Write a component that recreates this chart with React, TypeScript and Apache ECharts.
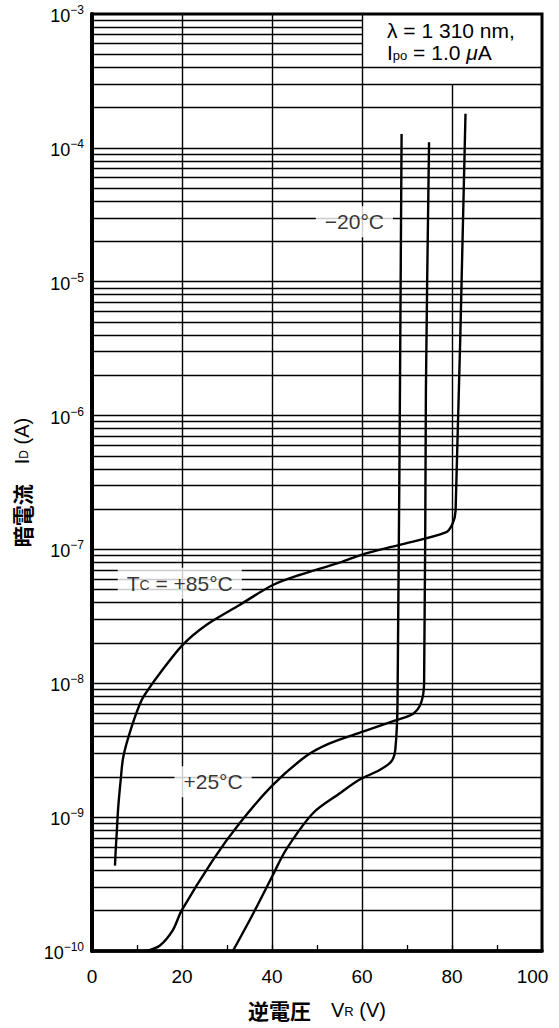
import React, { useEffect, useRef } from "react";
import * as echarts from "echarts";

const X_TICKS = [0, 20, 40, 60, 80, 100];
const Y_DECADES = [-10, -9, -8, -7, -6, -5, -4, -3];
const X_GRID = [20, 40, 60];
const MANTISSAS = [1, 2, 3, 4, 5, 6, 7, 8, 9];

// -20°C
const V_M20 = [31.3, 35.8, 40.2, 43.1, 49.1, 55.0, 59.4, 63.9, 66.5, 67.4, 67.9, 68.8];
const I_M20 = [1.0e-10, 1.9e-10, 3.7e-10, 5.7e-10, 1.07e-9, 1.5e-9, 1.9e-9, 2.25e-9, 2.6e-9, 3.2e-9, 7.5e-9, 1.27e-4];
// +25°C
const V_P25 = [12.1, 15.1, 18.0, 19.9, 26.9, 32.8, 40.2, 47.6, 52.8, 60.2, 67.6, 71.3, 73.1, 73.8, 74.2, 74.9];
const I_P25 = [1.0e-10, 1.1e-10, 1.44e-10, 2.0e-10, 4.8e-10, 9.0e-10, 1.74e-9, 2.86e-9, 3.56e-9, 4.35e-9, 5.3e-9, 5.9e-9, 7.1e-9, 1.0e-8, 1.55e-6, 1.1e-4];
// +85°C
const V_P85 = [5.1, 5.27, 5.49, 5.84, 6.38, 6.96, 8.82, 11.04, 12.9, 15.1, 20.1, 25.4, 32.8, 40.2, 46.1, 55.0, 60.2, 68.3, 78.6, 80.1, 80.8, 83.0];
const I_P85 = [4.34e-10, 5.7e-10, 7.6e-10, 1.2e-9, 1.9e-9, 2.83e-9, 4.74e-9, 7.5e-9, 9.4e-9, 1.19e-8, 1.93e-8, 2.73e-8, 3.85e-8, 5.42e-8, 6.44e-8, 7.96e-8, 9.2e-8, 1.08e-7, 1.34e-7, 1.55e-7, 1.95e-7, 1.8e-4];

const FONT = "'Liberation Sans', Arial, Helvetica, sans-serif";
const CJK = "'Noto Sans CJK JP', 'Noto Sans', sans-serif";

function zip(xs: number[], ys: number[]) {
  return xs.map((x, i) => [x, ys[i]]);
}

export default function App() {
  const ref = useRef<HTMLDivElement>(null);
  useEffect(() => {
    if (!ref.current) return;
    const chart = echarts.init(ref.current, undefined, { renderer: "svg" });

    const gridData: any[] = [];
    for (const d of Y_DECADES.slice(0, -1)) {
      for (const m of MANTISSAS) {
        const v = m * Math.pow(10, d);
        if (v > 4.5e-4) {
          gridData.push([{ coord: [0, v] }, { coord: [60, v] }]);
        } else {
          gridData.push([{ coord: [0, v] }, { coord: [100, v] }]);
        }
      }
    }
    for (const x of X_GRID) gridData.push([{ coord: [x, 1e-10] }, { coord: [x, 1e-3] }]);
    gridData.push([{ coord: [80, 1e-10] }, { coord: [80, 3e-4] }]);

    const curve = (name: string, data: number[][]) => ({
      name,
      type: "line",
      data,
      showSymbol: false,
      symbol: "none",
      smooth: 0.3,
      lineStyle: { color: "#000", width: 2.4 },
      z: 5,
      silent: true,
    });

    const labelSeries = (pos: number[], formatter: string, rich: any) => ({
      type: "scatter",
      data: [pos],
      symbolSize: 0,
      silent: true,
      z: 6,
      label: {
        show: true,
        position: "inside",
        formatter,
        backgroundColor: "#fff",
        padding: [5, 9, 5, 9],
        color: "#000",
        fontFamily: FONT,
        fontSize: 21,
        rich,
      },
    });

    const txt = { fontFamily: FONT, fontSize: 21, color: "#000" };

    chart.setOption({
      animation: false,
      backgroundColor: "#fff",
      grid: {
        left: 92,
        right: 17,
        top: 14,
        bottom: 77,
        show: true,
        borderColor: "#000",
        borderWidth: 3,
        backgroundColor: "transparent",
      },
      xAxis: {
        type: "value",
        min: 0,
        max: 100,
        interval: 20,
        axisLine: { show: true, lineStyle: { color: "#000", width: 3.5 } },
        axisTick: { show: true, inside: true, length: 6, lineStyle: { color: "#000", width: 1.3 } },
        minorTick: { show: true, splitNumber: 2, length: 6, lineStyle: { color: "#000", width: 1.3 } },
        splitLine: { show: false },
        axisLabel: {
          color: "#000",
          fontFamily: FONT,
          fontSize: 19,
          margin: 16,
          formatter: (v: number) => (v === 100 ? "{r|100}" : X_TICKS.includes(v) ? String(v) : ""),
          rich: {
            r: { fontFamily: FONT, fontSize: 19, color: "#000", padding: [0, 19, 0, 0] },
          },
        },
        name: "{j|逆電圧}{a|　V}{sub|R}{a| (V)}",
        nameLocation: "middle",
        nameGap: 48,
        nameTextStyle: {
          color: "#000",
          rich: {
            j: { fontFamily: CJK, fontSize: 21, fontWeight: "bold", color: "#000" },
            a: { fontFamily: FONT, fontSize: 20, color: "#000" },
            sub: { fontFamily: FONT, fontSize: 13, color: "#000", padding: [4, 0, 0, 0] },
          },
        },
      },
      yAxis: {
        type: "log",
        logBase: 10,
        min: 1e-10,
        max: 1e-3,
        splitNumber: 7,
        axisLine: { show: true, lineStyle: { color: "#000", width: 4 } },
        axisTick: { show: false },
        splitLine: { show: false },
        axisLabel: {
          margin: 8,
          formatter: (v: number) => {
            const e = Math.round(Math.log10(v));
            return `{b|10}{s|−${-e}}`;
          },
          rich: {
            b: { fontFamily: FONT, fontSize: 18, color: "#000", lineHeight: 24, padding: [4, 0, 0, 0] },
            s: { fontFamily: FONT, fontSize: 12, color: "#000", padding: [0, 0, 8, 0] },
          },
        },
        name: "{j|暗電流}{a|　I}{sub|D}{a| (A)}",
        nameLocation: "middle",
        nameGap: 55,
        nameRotate: 90,
        nameTextStyle: {
          color: "#000",
          rich: {
            j: { fontFamily: CJK, fontSize: 21, fontWeight: "bold", color: "#000" },
            a: { fontFamily: FONT, fontSize: 20, color: "#000" },
            sub: { fontFamily: FONT, fontSize: 12, color: "#000", padding: [4, 0, 0, 0] },
          },
        },
      },
      graphic: [
        {
          type: "text",
          left: 387,
          top: 20,
          z: 10,
          style: {
            text: "λ = 1 310 nm,",
            fill: "#000",
            font: `21px ${FONT}`,
          },
        },
        {
          type: "text",
          left: 387,
          top: 42,
          z: 10,
          style: {
            text: "{a|I}{sub|po}{a| = 1.0 }{mu|μ}{a|A}",
            fill: "#000",
            rich: {
              a: { fontFamily: FONT, fontSize: 21, fill: "#000" },
              sub: { fontFamily: FONT, fontSize: 13, fill: "#000", padding: [5, 0, 0, 0] },
              mu: { fontFamily: FONT, fontSize: 21, fontStyle: "italic", fill: "#000" },
            },
          },
        },
      ],
      series: [
        {
          type: "line",
          data: [[0, 1e-10]],
          symbol: "none",
          lineStyle: { width: 0 },
          silent: true,
          z: 1,
          markLine: {
            silent: true,
            symbol: ["none", "none"],
            label: { show: false },
            lineStyle: { color: "#000", width: 1.4, type: "solid" },
            emphasis: { disabled: true },
            data: gridData,
          },
        },
        curve("-20°C", zip(V_M20, I_M20)),
        curve("+25°C", zip(V_P25, I_P25)),
        curve("+85°C", zip(V_P85, I_P85)),
        labelSeries([58.3, 2.8e-5], "{a|−20°C}", { a: txt }),
        labelSeries([19.5, 5.6e-8], "{a|T}{sub|C}{a| = +85°C}", {
          a: txt,
          sub: { fontFamily: FONT, fontSize: 14, color: "#000", padding: [4, 0, 0, 0] },
        }),
        labelSeries([26.9, 1.84e-9], "{a|+25°C}", { a: txt }),
      ],
    });

    return () => chart.dispose();
  }, []);

  return (
    <div
      ref={ref}
      style={{ position: "fixed", left: 0, top: 0, width: 559, height: 1028, background: "#fff" }}
    />
  );
}
